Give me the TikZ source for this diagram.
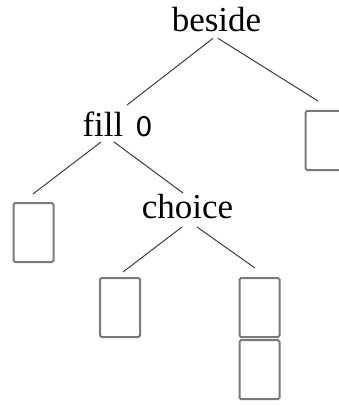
\documentclass[tikz,border=0pt]{standalone}
\usepackage{fontspec}
\setmainfont{Liberation Serif}
\newfontfamily\zerofont{DejaVu Sans}
\begin{document}
\begin{tikzpicture}[x=1pt,y=-1pt,
  lbl/.style={inner sep=0pt,outer sep=0pt,font=\fontsize{35}{40}\selectfont},
  leaf/.style={draw={rgb,255:red,122;green,122;blue,122},line width=2pt,rounded corners=1.5pt,
    inner sep=0pt,minimum width=40pt,minimum height=59pt,anchor=north},
  edge/.style={draw={rgb,255:red,60;green,60;blue,60},line width=1pt}]
\useasboundingbox (0,0) rectangle (339,406);
\node[lbl,anchor=base] (beside) at (216.5,32) {beside};
\node[lbl,anchor=base west] (fill) at (82.5,137) {fill\hspace{12pt}{\zerofont\fontsize{27}{30}\selectfont 0}};
\node[lbl,anchor=base] (choice) at (187.5,218) {choice};
\node[leaf] (rbox) at (325.5,110) {};
\node[leaf] (lbox) at (33.5,202) {};
\node[leaf] (mbox) at (120,277) {};
\node[leaf] (sbox1) at (259.5,277) {};
\node[leaf] (sbox2) at (259.5,339.2) {};
\path[edge] ([shift={(-3.5,6)}]beside.south) -- ([shift={(44.5,-32)}]fill.base west);
\path[edge] ([shift={(1.5,6)}]beside.south) -- ([shift={(-7.5,-9)}]rbox.north);
\path[edge] ([shift={(18.5,5)}]fill.base west) -- ([shift={(-0.5,-8)}]lbox.north);
\path[edge] ([shift={(31.5,5)}]fill.base west) -- ([shift={(-4.5,-25)}]choice.base);
\path[edge] ([shift={(-5.5,9)}]choice.base) -- ([shift={(3,-5)}]mbox.north);
\path[edge] ([shift={(9.5,9)}]choice.base) -- ([shift={(-4.5,-9)}]sbox1.north);
\end{tikzpicture}
\end{document}
